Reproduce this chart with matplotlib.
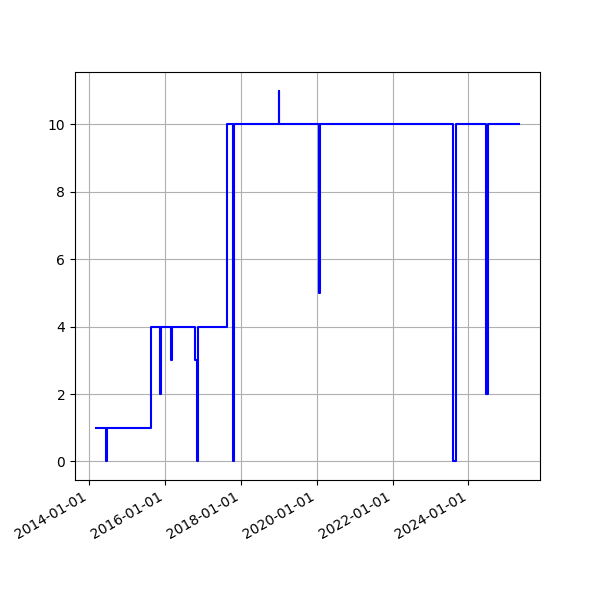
import pandas as pd
import matplotlib
matplotlib.use('Agg')
from matplotlib import pyplot as plt
import matplotlib.dates as mdates

# 変化した日付と、その日からの値
dates = [
    '2014-03-12', '2014-06-19', '2014-06-23',
    '2015-08-25', '2015-11-12', '2015-11-22',
    '2016-03-06', '2016-03-09',
    '2016-10-18', '2016-11-10', '2016-11-16',
    '2017-08-24', '2017-10-19', '2017-10-24',
    '2018-12-31', '2019-01-04',
    '2020-01-28', '2020-01-31',
    '2023-08-09', '2023-09-08',
    '2024-06-16', '2024-07-10',
    '2025-05-01',
]
values = [
    1, 0, 1,
    4, 2, 4,
    3, 4,
    3, 0, 4,
    10, 0, 10,
    11, 10,
    5, 10,
    0, 10,
    2, 10,
    10,
]

x = pd.to_datetime(dates)

fig, ax = plt.subplots(figsize=(6, 6), dpi=100)
ax.plot(x, values, color='blue', drawstyle='steps-post')
ax.grid(True)
ax.xaxis.set_major_locator(mdates.YearLocator(2))
ax.xaxis.set_major_formatter(mdates.DateFormatter('%Y-%m-%d'))
fig.autofmt_xdate()
plt.savefig('out.png')
